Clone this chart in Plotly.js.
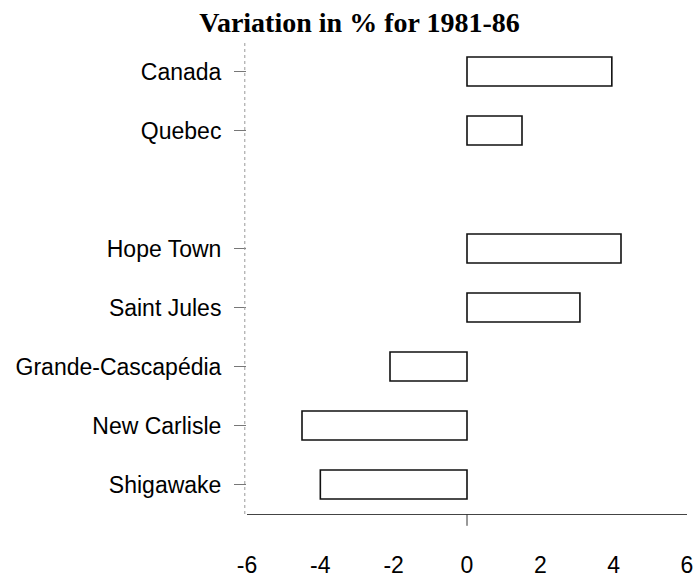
<!DOCTYPE html>
<html><head><meta charset="utf-8">
<script src="https://cdn.plot.ly/plotly-3.0.1.min.js"></script>
<style>body{margin:0;background:#fff}#c{width:694px;height:577px}</style>
</head><body><div id="c"></div>
<script>
const categories = ["Canada", "Quebec", " ", "Hope Town", "Saint Jules", "Grande-Cascapédia", "New Carlisle", "Shigawake"];
const values = [3.95, 1.5, null, 4.2, 3.08, -2.1, -4.5, -4.0];
const xTicks = [-6, -4, -2, 0, 2, 4, 6];
const titleText = "Variation in % for 1981-86";

const trace = {
  type: "bar", orientation: "h",
  x: values, y: categories,
  width: 0.49,
  marker: {color: "#ffffff", line: {color: "#111", width: 1.6}},
  hoverinfo: "none"
};
const labelFont = {family: "Liberation Sans, Arial, sans-serif", size: 23, color: "#000"};
const layout = {
  width: 694, height: 577,
  paper_bgcolor: "#fff", plot_bgcolor: "#fff",
  margin: {l: 247, r: 7, t: 42, b: 63},
  showlegend: false,
  title: {text: "<b>" + titleText + "</b>", x: 0.518, xref: "container", xanchor: "center",
          y: 0.962, yref: "container", yanchor: "middle",
          font: {family: "Liberation Serif, Times New Roman, serif", size: 28, color: "#000"}},
  xaxis: {range: [-6, 6], tickvals: xTicks, ticktext: xTicks.map(String),
          showgrid: false, zeroline: false, showline: true, linecolor: "#444", linewidth: 1,
          ticks: "", ticklabelstandoff: 30,
          tickfont: labelFont},
  yaxis: {type: "category", categoryorder: "array", categoryarray: categories,
          tickvals: categories.filter(c => c.trim() !== ""),
          autorange: "reversed", showgrid: false, zeroline: false,
          showline: false,
          ticks: "outside", ticklen: 12, tickcolor: "#777", ticklabelstandoff: 8,
          tickfont: labelFont},
  shapes: [
    {type: "line", xref: "x", yref: "paper", x0: 0, x1: 0, y0: -0.025, y1: 0, line: {color: "#333", width: 1}},
    {type: "line", xref: "paper", yref: "paper", x0: -0.005, x1: -0.005, y0: 0, y1: 1, line: {color: "#999", width: 1, dash: "dot"}}
  ]
};
Plotly.newPlot("c", [trace], layout, {displayModeBar: false, staticPlot: true});
</script></body></html>
